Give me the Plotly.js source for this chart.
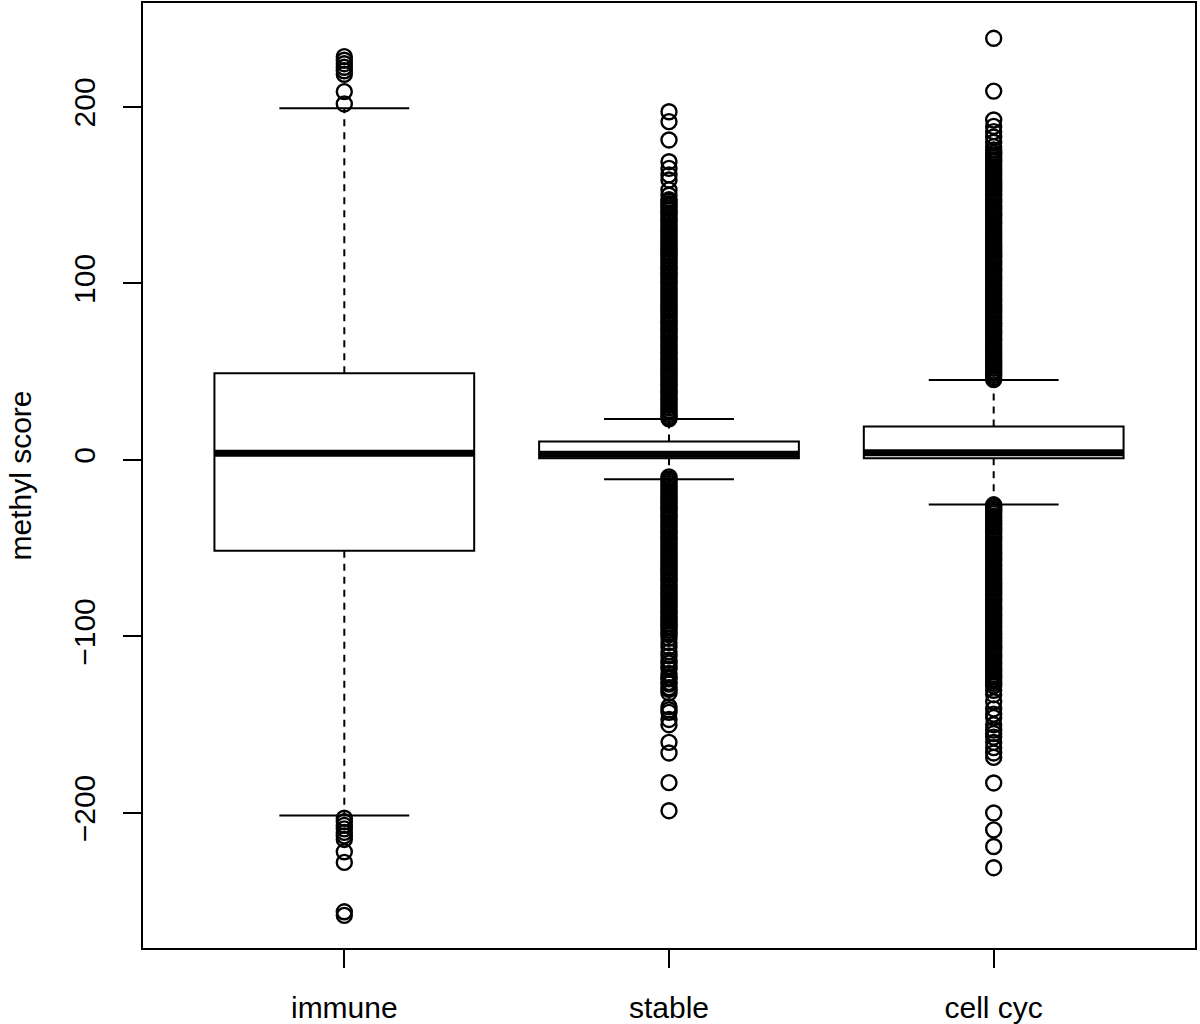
<!DOCTYPE html>
<html>
<head>
<meta charset="utf-8">
<script src="https://cdn.plot.ly/plotly-3.0.1.min.js"></script>
<style>html,body{margin:0;padding:0;background:#fff;}#chart{width:1200px;height:1024px;}</style>
</head>
<body>
<div id="chart"></div>
<script>
// ---- data ----
const categories = ['immune', 'stable', 'cell cyc'];
const catPos = [1, 2, 3];
const q1Values = [-51.4, 1.0, 1.0];
const medianValues = [3.8, 3.2, 4.1];
const q3Values = [49.1, 10.4, 18.9];
const whiskerLow = [-201.5, -10.9, -25.2];
const whiskerHigh = [199.2, 23.2, 45.3];

const outliersImmune = [228.5, 226.5, 224.5, 222.5, 220.5, 218.5, 208.7, 201.7,
  -203, -205, -207, -209, -211, -213, -215, -222, -228, -256, -258];

const outliersStable = [
  23.3, 24.4, 25.8, 27.0, 28.2, 29.6, 30.9, 32.1, 33.5, 34.7, 36.0, 37.4, 38.6, 39.9, 41.3,
  42.5, 43.8, 45.2, 46.4, 47.7, 49.1, 50.3, 51.6, 53.0, 54.2, 55.5, 56.9, 58.1, 59.4, 60.8,
  62.0, 63.3, 64.7, 65.9, 67.2, 68.6, 69.8, 71.1, 72.5, 73.7, 75.0, 76.4, 77.6, 78.9, 80.3,
  81.5, 82.8, 84.2, 85.4, 86.7, 88.1, 89.3, 90.6, 92.0, 93.2, 94.5, 95.9, 97.1, 98.4, 99.8,
  101.0, 102.3, 103.7, 104.9, 106.2, 107.6, 108.8, 110.1, 111.5, 112.7, 114.0, 115.4, 116.6,
  117.9, 119.3, 120.5, 121.8, 123.2, 124.4, 125.7, 127.1, 128.3, 129.6, 131.0, 132.2, 133.5,
  134.9, 136.1, 137.4, 138.8, 140.0, 141.3, 142.7, 143.9, 145.2, 146.6, 147.5,
  150.0, 153.0, 158.6, 161.5, 165.2, 169.0, 181.3, 191.7, 197.3,
  -9.6, -10.8, -12.1, -13.3, -14.6, -16.0, -17.2, -18.5, -19.9, -21.1, -22.4, -23.8, -25.0,
  -26.3, -27.7, -28.9, -30.2, -31.6, -32.8, -34.1, -35.5, -36.7, -38.0, -39.4, -40.6, -41.9,
  -43.3, -44.5, -45.8, -47.2, -48.4, -49.7, -51.1, -52.3, -53.6, -55.0, -56.2, -57.5, -58.9,
  -60.1, -61.4, -62.8, -64.0, -65.3, -66.7, -67.9, -69.2, -70.6, -71.8, -73.1, -74.5, -75.7,
  -77.0, -78.4, -79.6, -80.9, -82.3, -83.5, -84.8, -86.2, -87.4, -88.7, -90.1, -91.3, -92.6,
  -94.0, -95.2, -96.5, -97.9, -99.0,
  -101.0, -103.5, -106.0, -108.6, -111.0, -113.5, -115.0, -117.0, -118.5, -121.0, -123.0,
  -124.0, -126.0, -127.0, -129.0, -130.0, -132.0, -139.8, -141.5, -143.0, -147.0, -150.0,
  -160.0, -166.0, -182.8, -198.7];

const outliersCellCyc = [
  45.5, 46.7, 48.0, 49.2, 50.5, 51.9, 53.1, 54.4, 55.8, 57.0, 58.3, 59.7, 60.9, 62.2, 63.6,
  64.8, 66.1, 67.5, 68.7, 70.0, 71.4, 72.6, 73.9, 75.3, 76.5, 77.8, 79.2, 80.4, 81.7, 83.1,
  84.3, 85.6, 87.0, 88.2, 89.5, 90.9, 92.1, 93.4, 94.8, 96.0, 97.3, 98.7, 99.9, 101.2, 102.6,
  103.8, 105.1, 106.5, 107.7, 109.0, 110.4, 111.6, 112.9, 114.3, 115.5, 116.8, 118.2, 119.4,
  120.7, 122.1, 123.3, 124.6, 126.0, 127.2, 128.5, 129.9, 131.1, 132.4, 133.8, 135.0, 136.3,
  137.7, 138.9, 140.2, 141.6, 142.8, 144.1, 145.5, 146.7, 148.0, 149.4, 150.6, 151.9, 153.3,
  154.5, 155.8, 157.2, 158.4, 159.7, 161.1, 162.3, 163.6, 165.0, 166.2, 167.5, 168.9, 170.1,
  171.4, 172.8, 174.0, 175.6,
  177.5, 180.0, 183.0, 186.0, 189.0, 192.6, 209.0, 238.9,
  -25.4, -26.6, -27.9, -29.1, -30.4, -31.8, -33.0, -34.3, -35.7, -36.9, -38.2, -39.6, -40.8,
  -42.1, -43.5, -44.7, -46.0, -47.4, -48.6, -49.9, -51.3, -52.5, -53.8, -55.2, -56.4, -57.7,
  -59.1, -60.3, -61.6, -63.0, -64.2, -65.5, -66.9, -68.1, -69.4, -70.8, -72.0, -73.3, -74.7,
  -75.9, -77.2, -78.6, -79.8, -81.1, -82.5, -83.7, -85.0, -86.4, -87.6, -88.9, -90.3, -91.5,
  -92.8, -94.2, -95.4, -96.7, -98.1, -99.3, -100.6, -102.0, -103.2, -104.5, -105.9, -107.1,
  -108.4, -109.8, -111.0, -112.3, -113.7, -114.9, -116.2, -117.6, -118.8, -120.1, -121.5,
  -122.7, -124.0, -125.4, -126.6, -128.0,
  -130.5, -133.0, -137.0, -141.0, -144.0, -146.0, -150.0, -153.0, -155.0, -157.0, -160.0,
  -163.0, -166.0, -168.5, -183.0, -200.0, -209.6, -219.0, -231.0];

const outlierSets = [outliersImmune, outliersStable, outliersCellCyc];
const yTicks = [-200, -100, 0, 100, 200];

// ---- style constants ----
const BOX_W = 0.8;
const CAP_W = 0.4;
const FONT = 'Liberation Sans, Arial, Helvetica, sans-serif';

const traces = [];

// dashed whiskers
catPos.forEach((x, i) => {
  traces.push({
    type: 'scatter', mode: 'lines', hoverinfo: 'skip', showlegend: false,
    x: [x, x], y: [q3Values[i], whiskerHigh[i]],
    line: {color: 'black', width: 2, dash: '7px,6px'}
  });
  traces.push({
    type: 'scatter', mode: 'lines', hoverinfo: 'skip', showlegend: false,
    x: [x, x], y: [q1Values[i], whiskerLow[i]],
    line: {color: 'black', width: 2, dash: '7px,6px'}
  });
});

// boxes (precomputed stats, whiskers drawn separately)
traces.push({
  type: 'box', x: catPos, q1: q1Values, median: medianValues, q3: q3Values,
  lowerfence: q1Values, upperfence: q3Values,
  width: BOX_W, whiskerwidth: 0, boxpoints: false,
  fillcolor: 'white', line: {color: 'black', width: 2},
  showlegend: false, hoverinfo: 'skip'
});

// thick medians + staples
catPos.forEach((x, i) => {
  traces.push({
    type: 'scatter', mode: 'lines', hoverinfo: 'skip', showlegend: false,
    x: [x - BOX_W / 2, x + BOX_W / 2], y: [medianValues[i], medianValues[i]],
    line: {color: 'black', width: 7}
  });
  traces.push({
    type: 'scatter', mode: 'lines', hoverinfo: 'skip', showlegend: false,
    x: [x - CAP_W / 2, x + CAP_W / 2], y: [whiskerHigh[i], whiskerHigh[i]],
    line: {color: 'black', width: 2}
  });
  traces.push({
    type: 'scatter', mode: 'lines', hoverinfo: 'skip', showlegend: false,
    x: [x - CAP_W / 2, x + CAP_W / 2], y: [whiskerLow[i], whiskerLow[i]],
    line: {color: 'black', width: 2}
  });
});

// outliers
catPos.forEach((x, i) => {
  traces.push({
    type: 'scatter', mode: 'markers', hoverinfo: 'skip', showlegend: false,
    x: outlierSets[i].map(() => x), y: outlierSets[i],
    marker: {symbol: 'circle-open', size: 15, color: 'black', line: {width: 2.4, color: 'black'}}
  });
});

const layout = {
  width: 1200, height: 1024,
  margin: {l: 143, r: 5, t: 3, b: 76},
  paper_bgcolor: 'white', plot_bgcolor: 'white',
  font: {family: FONT, size: 30, color: 'black'},
  showlegend: false,
  xaxis: {
    range: [0.38, 3.62], tickmode: 'array', tickvals: catPos, ticktext: categories,
    ticks: 'outside', ticklen: 18, tickwidth: 2, tickcolor: 'black',
    ticklabelstandoff: 14,
    showline: true, mirror: true, linecolor: 'black', linewidth: 2,
    showgrid: false, zeroline: false, fixedrange: true,
    tickfont: {family: FONT, size: 30, color: 'black'}
  },
  yaxis: {
    range: [-276.5, 258.9], tickmode: 'array', tickvals: yTicks,
    ticktext: yTicks.map(v => v < 0 ? '\u2212' + Math.abs(v) : String(v)),
    tickangle: -90,
    ticks: 'outside', ticklen: 18, tickwidth: 2, tickcolor: 'black',
    ticklabelstandoff: 16,
    showline: true, mirror: true, linecolor: 'black', linewidth: 2,
    showgrid: false, zeroline: false, fixedrange: true,
    tickfont: {family: FONT, size: 30, color: 'black'},
    title: {text: 'methyl score', font: {family: FONT, size: 30, color: 'black'}, standoff: 28},
    automargin: false
  }
};

Plotly.newPlot('chart', traces, layout, {displayModeBar: false, staticPlot: true});
</script>
</body>
</html>
